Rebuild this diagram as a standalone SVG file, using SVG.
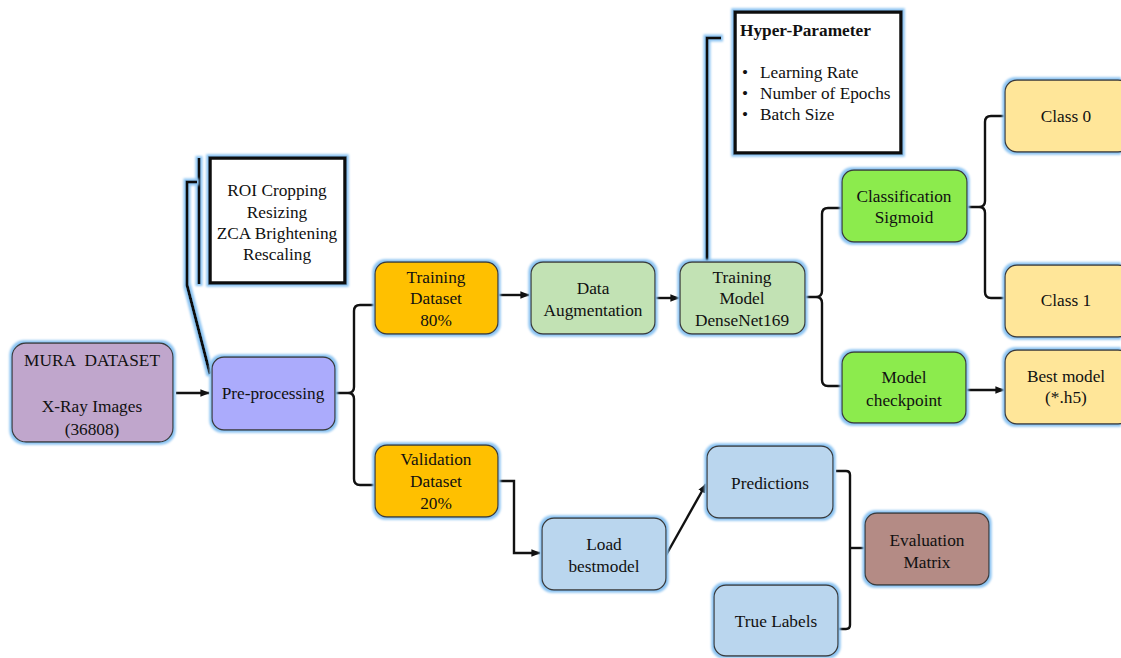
<svg xmlns="http://www.w3.org/2000/svg" width="1121" height="658" viewBox="0 0 1121 658">
<style>
text{font-family:"Liberation Serif","Times New Roman",Times,serif;font-size:17.3px;fill:#111;text-anchor:middle}
.b{stroke:#3a3a3a;stroke-width:1.3;filter:url(#glow)}
.c{fill:none;stroke:#111;stroke-width:2.4}
.k{fill:#fff;stroke:#111;stroke-width:3.5;filter:url(#glow)}
.gl{fill:none;stroke:#111;stroke-width:3;filter:url(#glow)}
</style>
<defs>
<filter id="glow" filterUnits="userSpaceOnUse" x="0" y="0" width="1121" height="658">
<feMorphology in="SourceAlpha" operator="dilate" radius="1.6" result="d"/>
<feGaussianBlur in="d" stdDeviation="1.3" result="bl"/>
<feFlood flood-color="#8CC4F2"/>
<feComposite in2="bl" operator="in" result="g"/>
<feMerge><feMergeNode in="g"/><feMergeNode in="SourceGraphic"/></feMerge>
</filter>
<marker id="ah" viewBox="0 0 10 10" refX="9" refY="5" markerWidth="4" markerHeight="4" orient="auto" markerUnits="strokeWidth">
<path d="M0,1 L10,5 L0,9 z" fill="#111"/>
</marker>
</defs>
<rect width="1121" height="658" fill="#fff"/>
<g id="connectors">
<path class="c" d="M176,393 H209" marker-end="url(#ah)"/>
<path class="gl" d="M199,158 V284"/>
<path class="gl" d="M197,182 H187 V285 L210,374"/>
<path class="c" d="M335,393 H348 Q354,393 354,387 V311 Q354,305 360,305 H375 M348,393 Q354,393 354,399 V479 Q354,485 360,485 H375"/>
<path class="c" d="M498,295 H529" marker-end="url(#ah)"/>
<path class="c" d="M655,298 H679" marker-end="url(#ah)"/>
<path class="gl" d="M707,262 V38 H721"/>
<path class="c" d="M805,297 H816 Q822,297 822,291 V214 Q822,208 828,208 H842 M816,297 Q822,297 822,303 V380 Q822,386 828,386 H842"/>
<path class="c" d="M966,390 H1004" marker-end="url(#ah)"/>
<path class="c" d="M967,207 H979 Q985,207 985,201 V122 Q985,116 991,116 H1005 M979,207 Q985,207 985,213 V292 Q985,298 991,298 H1005"/>
<path class="c" d="M498,481 H514 V553 H540" marker-end="url(#ah)"/>
<path class="c" d="M665,557 L706,484" marker-end="url(#ah)"/>
<path class="c" d="M836,471 H846 Q850,471 850,475 V625 Q850,629 846,629 H836"/>
<path class="c" d="M850,548 H865"/>
</g>
<g id="mura"><rect class="b" x="12" y="343" width="161" height="99" rx="14" fill="#C0A6CC"/>
<text x="92" y="366">MURA&#160; DATASET</text><text x="92" y="412">X-Ray Images</text><text x="92" y="435">(36808)</text></g>
<g id="preprocessing"><rect class="b" x="212" y="357" width="123" height="73" rx="12" fill="#ABABFC"/>
<text x="273" y="399">Pre-processing</text></g>
<g id="roi"><rect class="k" x="210" y="158" width="135" height="125"/>
<text x="277" y="196">ROI Cropping</text><text x="277" y="218">Resizing</text><text x="277" y="239">ZCA Brightening</text><text x="277" y="260">Rescaling</text></g>
<g id="training-dataset"><rect class="b" x="375" y="262" width="123" height="72" rx="12" fill="#FFC000"/>
<text x="436" y="283">Training</text><text x="436" y="304">Dataset</text><text x="436" y="326">80%</text></g>
<g id="data-augmentation"><rect class="b" x="531" y="262" width="124" height="72" rx="12" fill="#C2E2B4"/>
<text x="593" y="294">Data</text><text x="593" y="316">Augmentation</text></g>
<g id="training-model"><rect class="b" x="680" y="262" width="125" height="72" rx="12" fill="#C2E2B4"/>
<text x="742" y="283">Training</text><text x="742" y="304">Model</text><text x="742" y="326">DenseNet169</text></g>
<g id="hyper-parameter"><rect class="k" x="735" y="12" width="166" height="141"/>
<text x="740" y="36" style="text-anchor:start;font-weight:bold">Hyper-Parameter</text>
<text x="742" y="78" style="text-anchor:start">•</text><text x="760" y="78" style="text-anchor:start">Learning Rate</text>
<text x="742" y="99" style="text-anchor:start">•</text><text x="760" y="99" style="text-anchor:start">Number of Epochs</text>
<text x="742" y="120" style="text-anchor:start">•</text><text x="760" y="120" style="text-anchor:start">Batch Size</text></g>
<g id="classification"><rect class="b" x="842" y="170" width="125" height="72" rx="12" fill="#8CEB4E"/>
<text x="904" y="202">Classification</text><text x="904" y="223">Sigmoid</text></g>
<g id="class0"><rect class="b" x="1005" y="80" width="125" height="72" rx="12" fill="#FFE699"/>
<text x="1066" y="122">Class 0</text></g>
<g id="class1"><rect class="b" x="1005" y="265" width="125" height="72" rx="12" fill="#FFE699"/>
<text x="1066" y="306">Class 1</text></g>
<g id="model-checkpoint"><rect class="b" x="842" y="352" width="124" height="71" rx="12" fill="#8CEB4E"/>
<text x="904" y="383">Model</text><text x="904" y="406">checkpoint</text></g>
<g id="best-model"><rect class="b" x="1005" y="350" width="125" height="74" rx="12" fill="#FFE699"/>
<text x="1066" y="382">Best model</text><text x="1066" y="403">(*.h5)</text></g>
<g id="validation-dataset"><rect class="b" x="375" y="445" width="123" height="72" rx="12" fill="#FFC000"/>
<text x="436" y="465">Validation</text><text x="436" y="487">Dataset</text><text x="436" y="509">20%</text></g>
<g id="load-bestmodel"><rect class="b" x="542" y="518" width="124" height="72" rx="12" fill="#BAD6EE"/>
<text x="604" y="550">Load</text><text x="604" y="572">bestmodel</text></g>
<g id="predictions"><rect class="b" x="707" y="446" width="126" height="72" rx="12" fill="#BAD6EE"/>
<text x="770" y="489">Predictions</text></g>
<g id="true-labels"><rect class="b" x="714" y="585" width="124" height="71" rx="12" fill="#BAD6EE"/>
<text x="776" y="627">True Labels</text></g>
<g id="evaluation-matrix"><rect class="b" x="865" y="513" width="124" height="72" rx="12" fill="#B48B85"/>
<text x="927" y="546">Evaluation</text><text x="927" y="568">Matrix</text></g>
</svg>
